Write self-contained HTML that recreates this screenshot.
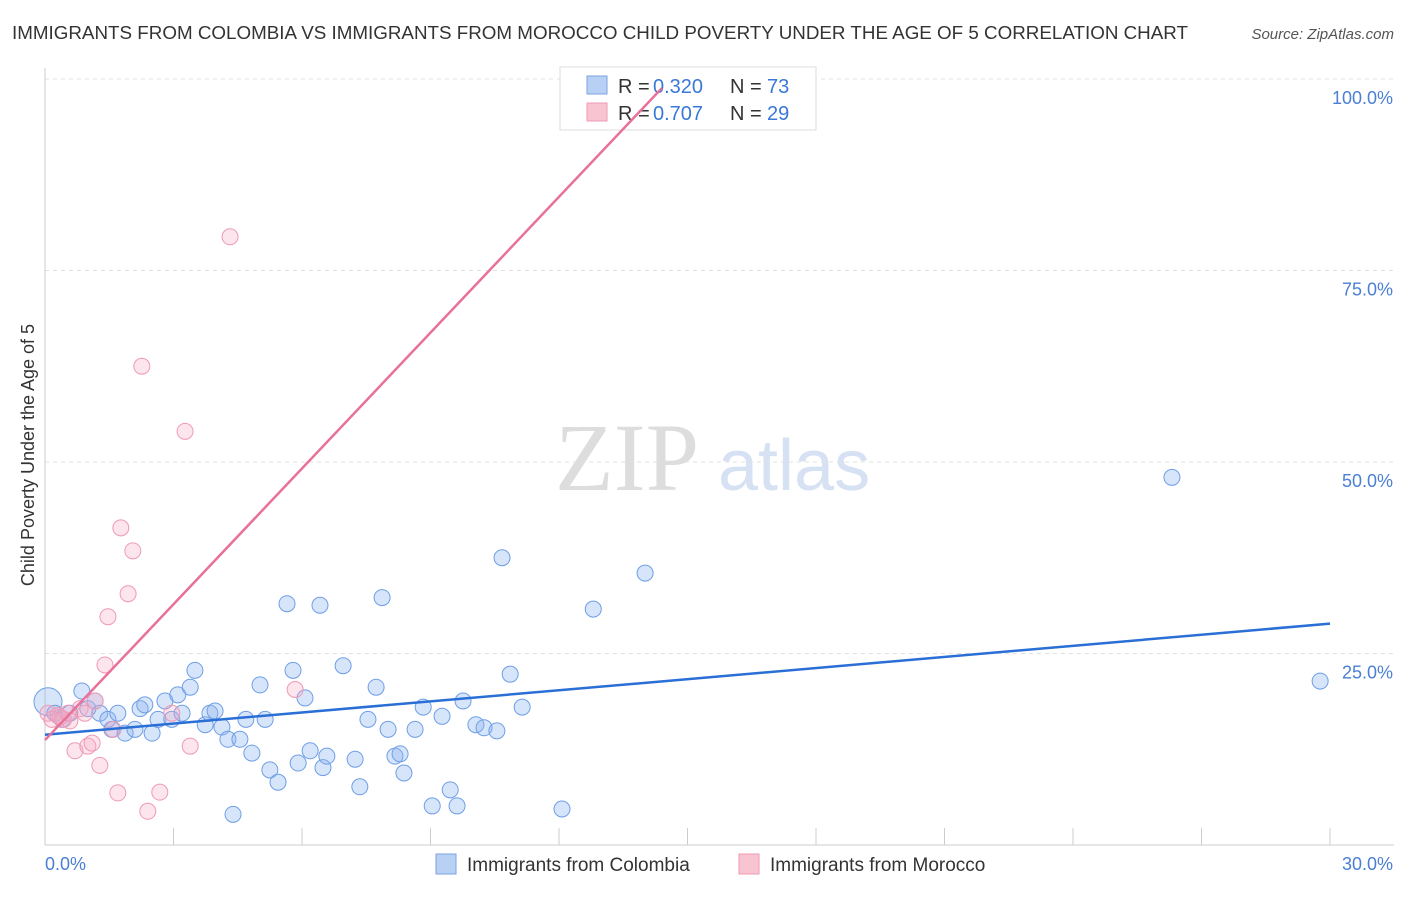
<!DOCTYPE html>
<html><head><meta charset="utf-8"><style>
body{margin:0;background:#fff;font-family:"Liberation Sans",sans-serif}
</style></head><body>
<svg width="1406" height="892" xmlns="http://www.w3.org/2000/svg" id="chart" font-family="Liberation Sans, sans-serif">
<text x="12" y="39" font-size="18" fill="#333" textLength="1176" lengthAdjust="spacingAndGlyphs">IMMIGRANTS FROM COLOMBIA VS IMMIGRANTS FROM MOROCCO CHILD POVERTY UNDER THE AGE OF 5 CORRELATION CHART</text>
<text x="1394" y="39" font-size="15" fill="#555" font-style="italic" text-anchor="end">Source: ZipAtlas.com</text>
<text x="555" y="490" font-size="96" fill="#ddd" font-family="Liberation Serif, serif">ZIP</text>
<text x="718" y="490" font-size="72" fill="#d6e2f3">atlas</text>
<text transform="translate(34,455) rotate(-90)" font-size="18" fill="#333" text-anchor="middle">Child Poverty Under the Age of 5</text>
<g id="grid"></g><g id="pts"></g>
<g>
<rect x="560" y="67" width="256" height="63" fill="#fff" stroke="#ddd"/>
<rect x="587" y="76" width="20" height="18" fill="#b8d0f4" stroke="#7aa3e0"/>
<rect x="587" y="103" width="20" height="18" fill="#f9c4d2" stroke="#ee9ab2"/>
<text x="618" y="93" font-size="20" fill="#333">R =</text>
<text x="653" y="93" font-size="20" fill="#3a78d8">0.320</text>
<text x="730" y="93" font-size="20" fill="#333">N =</text>
<text x="767" y="93" font-size="20" fill="#3a78d8">73</text>
<text x="618" y="120" font-size="20" fill="#333">R =</text>
<text x="653" y="120" font-size="20" fill="#3a78d8">0.707</text>
<text x="730" y="120" font-size="20" fill="#333">N =</text>
<text x="767" y="120" font-size="20" fill="#3a78d8">29</text>
</g>
<g id="lines"></g>
<g>
<rect x="436" y="854" width="20" height="20" fill="#b8d0f4" stroke="#7aa3e0"/>
<text x="467" y="871" font-size="19" fill="#333">Immigrants from Colombia</text>
<rect x="739" y="854" width="20" height="20" fill="#f9c4d2" stroke="#ee9ab2"/>
<text x="770" y="871" font-size="19" fill="#333">Immigrants from Morocco</text>
</g>
</svg>
<script>
const xTicks=[0,3,6,9,12,15,18,21,24,27,30];
const yTicks=[25,50,75,100];
const yTickLabels=["25.0%","50.0%","75.0%","100.0%"];
const blueX=[0.07,0.23,0.4,0.58,0.86,1.0,1.17,1.28,1.47,1.56,1.7,1.87,2.1,2.22,2.33,2.5,2.64,2.8,2.96,3.1,3.2,3.39,3.5,3.74,3.85,3.97,4.13,4.27,4.55,4.69,4.83,5.02,5.14,5.25,5.44,5.65,5.79,5.91,6.07,6.19,6.42,6.49,6.58,6.96,7.24,7.35,7.54,7.73,7.87,8.01,8.17,8.29,8.38,8.64,8.83,9.04,9.27,9.46,9.62,9.76,10.06,10.25,10.55,10.67,10.86,11.14,12.07,12.8,14.01,26.31,29.77,4.39];
const blueY=[18.7,17.2,16.4,17.2,20.1,17.8,18.8,17.2,16.4,15.1,17.2,14.6,15.1,17.8,18.3,14.6,16.4,18.8,16.4,19.6,17.2,20.6,22.8,15.7,17.2,17.5,15.4,13.8,13.8,16.4,12.0,20.9,16.4,9.8,8.2,31.5,22.8,10.7,19.2,12.3,31.3,10.1,11.6,23.4,11.2,7.6,16.4,20.6,32.3,15.1,11.6,11.9,9.4,15.1,18.0,5.1,16.8,7.2,5.1,18.8,15.7,15.3,14.9,37.5,22.3,18.0,4.7,30.8,35.5,48.0,21.4,4.0];
const pinkX=[0.07,0.16,0.3,0.44,0.58,0.7,0.82,1.0,1.1,1.17,1.28,1.4,1.47,1.59,1.7,1.77,1.94,2.05,2.26,2.4,2.68,2.96,3.27,3.39,4.32,5.84,0.35,0.54,0.93];
const pinkY=[17.2,16.4,16.9,16.4,16.2,12.3,17.8,12.9,13.3,18.8,10.4,23.5,29.8,15.1,6.8,41.4,32.8,38.4,62.5,4.4,6.9,17.2,54.0,12.9,79.4,20.3,16.7,17.2,17.2];
const blueTrend=[14.4,28.9];
const pinkTrend=[13.7,98.8,14.4];
const NS="http://www.w3.org/2000/svg";
const X=v=>45+v*(1285/30), Y=v=>845-v*7.66;
function mk(t,a,p){const e=document.createElementNS(NS,t);for(const k in a)e.setAttribute(k,a[k]);document.getElementById(p).appendChild(e);return e;}
yTicks.forEach((t,i)=>{
 const g=mk('line',{x1:45,x2:1394,y1:Y(t),y2:Y(t),stroke:'#e0e0e0','stroke-dasharray':'4,4'},'grid');
 
 
 const l=mk('text',{x:1393,y:Y(t)+25,'font-size':18,fill:'#4a7fd4','text-anchor':'end'},'grid');
 l.textContent=yTickLabels[i];
 
 
});
const ya=mk('line',{x1:45,x2:45,y1:68,y2:845,stroke:'#ccc'},'grid');


const xa=mk('line',{x1:45,x2:1394,y1:845,y2:845,stroke:'#ccc'},'grid');


xTicks.forEach(t=>{
 const k=mk('line',{x1:X(t),x2:X(t),y1:828,y2:845,stroke:'#ccc'},'grid');
 
 
});
[[0,'0.0%',45,'start'],[30,'30.0%',1393,'end']].forEach(a=>{
 const l=mk('text',{x:a[2],y:870,'font-size':18,fill:'#4a7fd4','text-anchor':a[3]},'grid');
 l.textContent=a[1];
 
 
});
blueX.forEach((x,i)=>{
 const c=mk('circle',{cx:X(x),cy:Y(blueY[i]),r:i==0?14:8,fill:'rgba(140,180,240,0.35)',stroke:'#6e9ee6','stroke-width':1},'pts');
 
 
});
pinkX.forEach((x,i)=>{
 const c=mk('circle',{cx:X(x),cy:Y(pinkY[i]),r:8,fill:'rgba(248,170,195,0.3)',stroke:'#ef9ab4','stroke-width':1},'pts');
 
 
});
const bl=mk('line',{x1:X(0),y1:Y(blueTrend[0]),x2:X(30),y2:Y(blueTrend[1]),stroke:'#2a6fd6','stroke-width':2.5},'lines');


const pl=mk('line',{x1:X(0),y1:Y(pinkTrend[0]),x2:X(pinkTrend[2]),y2:Y(pinkTrend[1]),stroke:'#e8719a','stroke-width':2.5},'lines');


</script>
</body></html>
